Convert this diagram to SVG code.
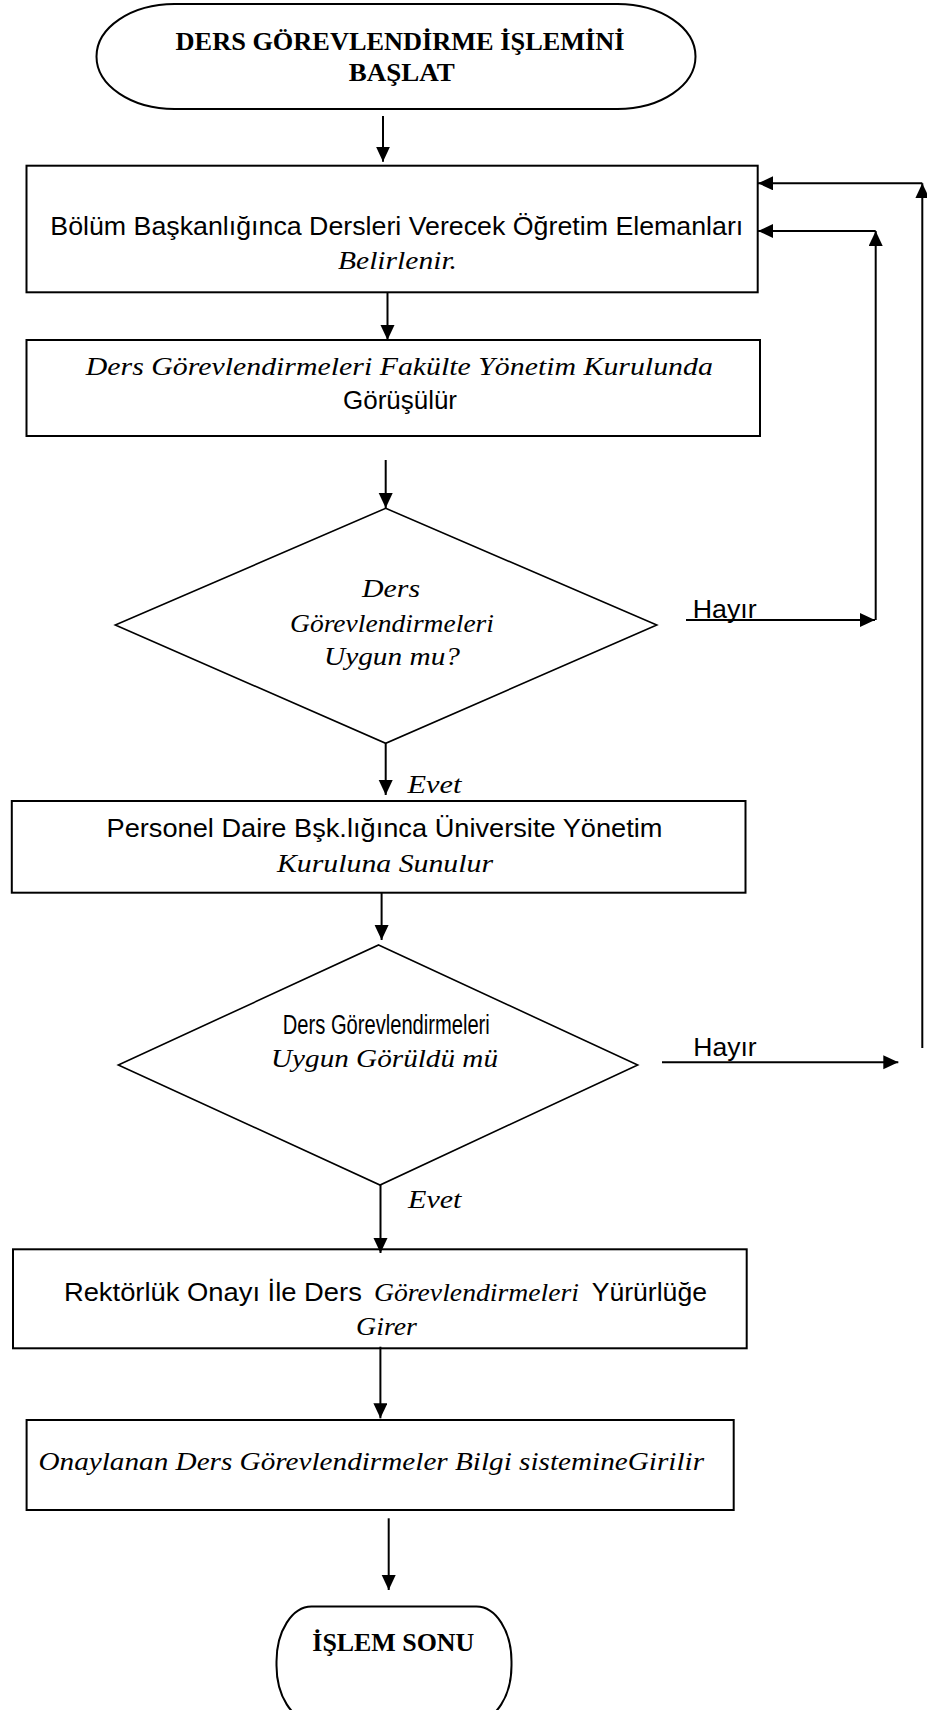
<svg xmlns="http://www.w3.org/2000/svg" width="927" height="1710" viewBox="0 0 927 1710">
  <style>
    .shape { fill: #ffffff; stroke: #000000; stroke-width: 2; }
    .dia { fill: #ffffff; stroke: #000000; stroke-width: 1.6; }
    .link { fill: none; stroke: #000000; stroke-width: 2; }
    .sans { font-family: "Liberation Sans", Arial, sans-serif; font-size: 25px; fill: #000; }
    .ital { font-family: "Liberation Serif", "Times New Roman", serif; font-style: italic; font-size: 25px; fill: #000; }
    .bold { font-family: "Liberation Serif", "Times New Roman", serif; font-weight: bold; font-size: 26px; fill: #000; }
    .squeezed { font-size: 27px; }
  </style>
  <defs>
    <marker id="arrow" markerUnits="userSpaceOnUse" markerWidth="16" markerHeight="16" viewBox="0 0 16 16" refX="15" refY="7" orient="auto">
      <path d="M0,0 L15,7 L0,14 Z" fill="#000000"/>
    </marker>
  </defs>
  <rect width="927" height="1710" fill="#ffffff"/>

  <!-- start terminal -->
  <g id="start">
    <rect class="shape" x="96.5" y="4" width="599" height="105" rx="78" ry="52.5"/>
    <text class="bold" x="175.6" y="50" textLength="449" lengthAdjust="spacingAndGlyphs">DERS GÖREVLENDİRME İŞLEMİNİ</text>
    <text class="bold" x="348.8" y="80.7" textLength="106" lengthAdjust="spacingAndGlyphs">BAŞLAT</text>
  </g>

  <!-- step: instructors assigned -->
  <g id="step-belirle">
    <rect class="shape" x="26.5" y="165.7" width="731.2" height="126.6"/>
    <text class="sans" x="50.3" y="235" textLength="693" lengthAdjust="spacingAndGlyphs">Bölüm Başkanlığınca Dersleri Verecek Öğretim Elemanları</text>
    <text class="ital" x="338" y="269.3" textLength="119" lengthAdjust="spacingAndGlyphs">Belirlenir.</text>
  </g>

  <!-- step: faculty board -->
  <g id="step-fakulte">
    <rect class="shape" x="26.5" y="340" width="733.5" height="96"/>
    <text class="ital" x="85.8" y="375" textLength="627" lengthAdjust="spacingAndGlyphs">Ders Görevlendirmeleri Fakülte  Yönetim Kurulunda</text>
    <text class="sans" x="343" y="409.3" textLength="114" lengthAdjust="spacingAndGlyphs">Görüşülür</text>
  </g>

  <!-- decision 1 -->
  <g id="decision-uygun">
    <polygon class="dia" points="385.7,508.3 656.8,625 385.7,743.3 115.3,625"/>
    <text class="ital" x="362" y="596.7" textLength="58" lengthAdjust="spacingAndGlyphs">Ders</text>
    <text class="ital" x="290" y="631.7" textLength="204" lengthAdjust="spacingAndGlyphs">Görevlendirmeleri</text>
    <text class="ital" x="324" y="665" textLength="136" lengthAdjust="spacingAndGlyphs">Uygun mu?</text>
  </g>

  <!-- step: personnel office -->
  <g id="step-personel">
    <rect class="shape" x="11.8" y="801" width="733.7" height="91.7"/>
    <text class="sans" x="106.5" y="836.7" textLength="556" lengthAdjust="spacingAndGlyphs">Personel Daire Bşk.lığınca Üniversite Yönetim</text>
    <text class="ital" x="277" y="871.7" textLength="216" lengthAdjust="spacingAndGlyphs">Kuruluna  Sunulur</text>
  </g>

  <!-- decision 2 -->
  <g id="decision-goruldu">
    <polygon class="dia" points="378.6,945 637.7,1065 380,1185 118.3,1065"/>
    <text class="sans squeezed" x="282.8" y="1034.3" textLength="207" lengthAdjust="spacingAndGlyphs">Ders Görevlendirmeleri</text>
    <text class="ital" x="271" y="1067.3" textLength="227" lengthAdjust="spacingAndGlyphs">Uygun  Görüldü  mü</text>
  </g>

  <!-- step: rectorate approval -->
  <g id="step-rektorluk">
    <rect class="shape" x="13" y="1249.3" width="733.7" height="99"/>
    <text class="sans" x="63.9" y="1301" textLength="298" lengthAdjust="spacingAndGlyphs">Rektörlük Onayı İle Ders</text>
    <text class="ital" x="374" y="1301" textLength="205" lengthAdjust="spacingAndGlyphs">Görevlendirmeleri</text>
    <text class="sans" x="591.7" y="1301" textLength="115.3" lengthAdjust="spacingAndGlyphs">Yürürlüğe</text>
    <text class="ital" x="356" y="1335" textLength="61" lengthAdjust="spacingAndGlyphs">Girer</text>
  </g>

  <!-- step: information system entry -->
  <g id="step-bilgi">
    <rect class="shape" x="26.6" y="1420" width="707.1" height="90"/>
    <text class="ital" x="38.5" y="1470" textLength="665.5" lengthAdjust="spacingAndGlyphs">Onaylanan Ders Görevlendirmeler  Bilgi sistemineGirilir</text>
  </g>

  <!-- end terminal -->
  <g id="end">
    <rect class="shape" x="276.5" y="1606.5" width="235" height="114" rx="35" ry="55"/>
    <text class="bold" x="312.3" y="1650.7" textLength="162" lengthAdjust="spacingAndGlyphs">İŞLEM SONU</text>
  </g>

  <!-- connectors -->
  <g id="connectors">
    <line class="link" x1="383" y1="116" x2="383" y2="161.7" marker-end="url(#arrow)"/>
    <line class="link" x1="387.5" y1="292.3" x2="387.5" y2="340" marker-end="url(#arrow)"/>
    <line class="link" x1="385.7" y1="460" x2="385.7" y2="508" marker-end="url(#arrow)"/>
    <line class="link" x1="385.7" y1="743.3" x2="385.7" y2="795" marker-end="url(#arrow)"/>
    <line class="link" x1="381.6" y1="892.7" x2="381.6" y2="940" marker-end="url(#arrow)"/>
    <line class="link" x1="380.5" y1="1185" x2="380.5" y2="1253" marker-end="url(#arrow)"/>
    <line class="link" x1="380.4" y1="1346.7" x2="380.4" y2="1418.3" marker-end="url(#arrow)"/>
    <line class="link" x1="388.7" y1="1518.3" x2="388.7" y2="1590" marker-end="url(#arrow)"/>

    <!-- first rejection loop -->
    <line class="link" x1="686" y1="620" x2="875" y2="620" marker-end="url(#arrow)"/>
    <line class="link" x1="875.7" y1="620" x2="875.7" y2="231" marker-end="url(#arrow)"/>
    <line class="link" x1="875.7" y1="231" x2="758" y2="231" marker-end="url(#arrow)"/>

    <!-- second rejection loop -->
    <line class="link" x1="662" y1="1062.3" x2="898.3" y2="1062.3" marker-end="url(#arrow)"/>
    <line class="link" x1="922.3" y1="1048" x2="922.3" y2="183.3" marker-end="url(#arrow)"/>
    <line class="link" x1="922.3" y1="183.3" x2="758" y2="183.3" marker-end="url(#arrow)"/>

    <!-- branch labels -->
    <text class="sans" x="692.7" y="618.3" textLength="64" lengthAdjust="spacingAndGlyphs">Hayır</text>
    <text class="sans" x="693.3" y="1056" textLength="63.4" lengthAdjust="spacingAndGlyphs">Hayır</text>
    <text class="ital" x="407.5" y="792.5" textLength="54" lengthAdjust="spacingAndGlyphs">Evet</text>
    <text class="ital" x="408" y="1208.3" textLength="53.5" lengthAdjust="spacingAndGlyphs">Evet</text>
  </g>
</svg>
